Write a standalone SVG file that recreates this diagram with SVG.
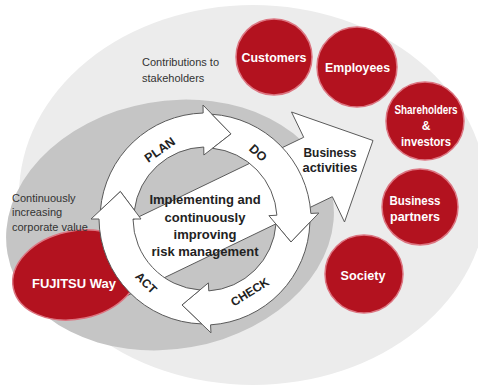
<svg xmlns="http://www.w3.org/2000/svg" width="478" height="385" viewBox="0 0 478 385">
<style>
.bg{fill:#ececec}
.core{fill:#c5c5c5}
.arr{fill:#ffffff;stroke:#5a5a5a;stroke-width:1;stroke-linejoin:miter}
.red{fill:#b3121f;stroke:#dc7581;stroke-width:1.5}
.wt{font-family:"Liberation Sans",Arial,sans-serif;font-weight:bold;fill:#ffffff;text-anchor:middle}
.dk{font-family:"Liberation Sans",Arial,sans-serif;font-weight:bold;fill:#222222;text-anchor:middle}
.nt{font-family:"Liberation Sans",Arial,sans-serif;font-size:11px;fill:#333333}
</style>
<rect width="478" height="385" fill="#ffffff"/>
<g id="background">
<ellipse class="bg" cx="253" cy="195" rx="234" ry="190"/>
<ellipse class="core" cx="170" cy="225" rx="165" ry="124" transform="rotate(-10 170 225)"/>
</g>
<g id="connectors">
<path id="business-arrow" class="arr" d="M78.7,245.8 L303.7,137.3 L291.5,112 L373,140.5 L344.5,222 L332.3,196.7 L107.3,305.2 Z"/>
</g>
<g id="fujitsu-way">
<ellipse class="red" cx="76" cy="275" rx="64" ry="44" transform="rotate(-12 76 275)"/>
<text class="wt" x="74" y="288" font-size="13">FUJITSU Way</text>
</g>
<g id="cycle">
<g id="plan">
<path class="arr" d="M100.4,210.2 A106,106 0 0 1 203.15,113.02 L203.01,105.02 L231.02,133.89 L203.88,155.01 L203.74,147.01 A72,72 0 0 0 134.4,210.2 L120.36,191.5 Z"/>
<text class="dk" font-size="12.5" transform="translate(160 150) rotate(-35)" y="4">PLAN</text>
</g>
<g id="do">
<path class="arr" d="M211.97,114.26 A106,106 0 0 1 310.85,213.45 L318.84,213.03 L290.97,242.03 L268.91,215.65 L276.9,215.23 A72,72 0 0 0 212.56,148.25 L231.02,133.89 Z"/>
<text class="dk" font-size="12.5" transform="translate(258 153) rotate(42)" y="4">DO</text>
</g>
<g id="check">
<path class="arr" d="M309.92,222.31 A106,106 0 0 1 210.55,324.85 L210.97,332.84 L181.97,304.97 L208.35,282.91 L208.77,290.9 A72,72 0 0 0 275.97,224.09 L290.97,242.03 Z"/>
<text class="dk" font-size="12" transform="translate(250 292) rotate(-32)" y="4">CHECK</text>
</g>
<g id="act">
<path class="arr" d="M201.69,323.92 A106,106 0 0 1 99,219 L91,219 L120.36,191.5 L141,219 L133,219 A72,72 0 0 0 199.91,289.97 L181.97,304.97 Z"/>
<text class="dk" font-size="12" transform="translate(146 283) rotate(45)" y="4">ACT</text>
</g>
</g>
<g id="risk-management">
<text class="dk" font-size="13"><tspan x="205" y="204">Implementing and</tspan><tspan x="205" y="221.5">continuously</tspan><tspan x="205" y="239">improving</tspan><tspan x="205" y="256">risk management</tspan></text>
</g>
<g id="business-activities">
<text class="dk" font-size="13"><tspan x="330" y="157" textLength="53" lengthAdjust="spacingAndGlyphs">Business</tspan><tspan x="330" y="172" textLength="55" lengthAdjust="spacingAndGlyphs">activities</tspan></text>
</g>
<g id="continuously-increasing">
<text class="nt"><tspan x="12" y="202">Continuously</tspan><tspan x="12" y="216">increasing</tspan><tspan x="12" y="231">corporate value</tspan></text>
</g>
<g id="contributions">
<text class="nt"><tspan x="142" y="66">Contributions to</tspan><tspan x="142" y="82">stakeholders</tspan></text>
</g>
<g id="customers">
<circle class="red" cx="274" cy="57" r="38"/>
<text class="wt" x="274" y="62" font-size="13" textLength="65" lengthAdjust="spacingAndGlyphs">Customers</text>
</g>
<g id="employees">
<circle class="red" cx="357" cy="67" r="40"/>
<text class="wt" x="357.5" y="72" font-size="13" textLength="65" lengthAdjust="spacingAndGlyphs">Employees</text>
</g>
<g id="shareholders">
<circle class="red" cx="425" cy="121" r="39"/>
<text class="wt" font-size="12"><tspan x="426" y="114" textLength="63" lengthAdjust="spacingAndGlyphs">Shareholders</tspan><tspan x="426" y="130">&amp;</tspan><tspan x="426" y="146" textLength="50" lengthAdjust="spacingAndGlyphs">investors</tspan></text>
</g>
<g id="business-partners">
<circle class="red" cx="420" cy="207" r="38"/>
<text class="wt" font-size="13"><tspan x="415" y="205" textLength="51" lengthAdjust="spacingAndGlyphs">Business</tspan><tspan x="415" y="221" textLength="50" lengthAdjust="spacingAndGlyphs">partners</tspan></text>
</g>
<g id="society">
<circle class="red" cx="364" cy="274" r="39"/>
<text class="wt" x="363" y="280" font-size="13" textLength="45" lengthAdjust="spacingAndGlyphs">Society</text>
</g>
</svg>
